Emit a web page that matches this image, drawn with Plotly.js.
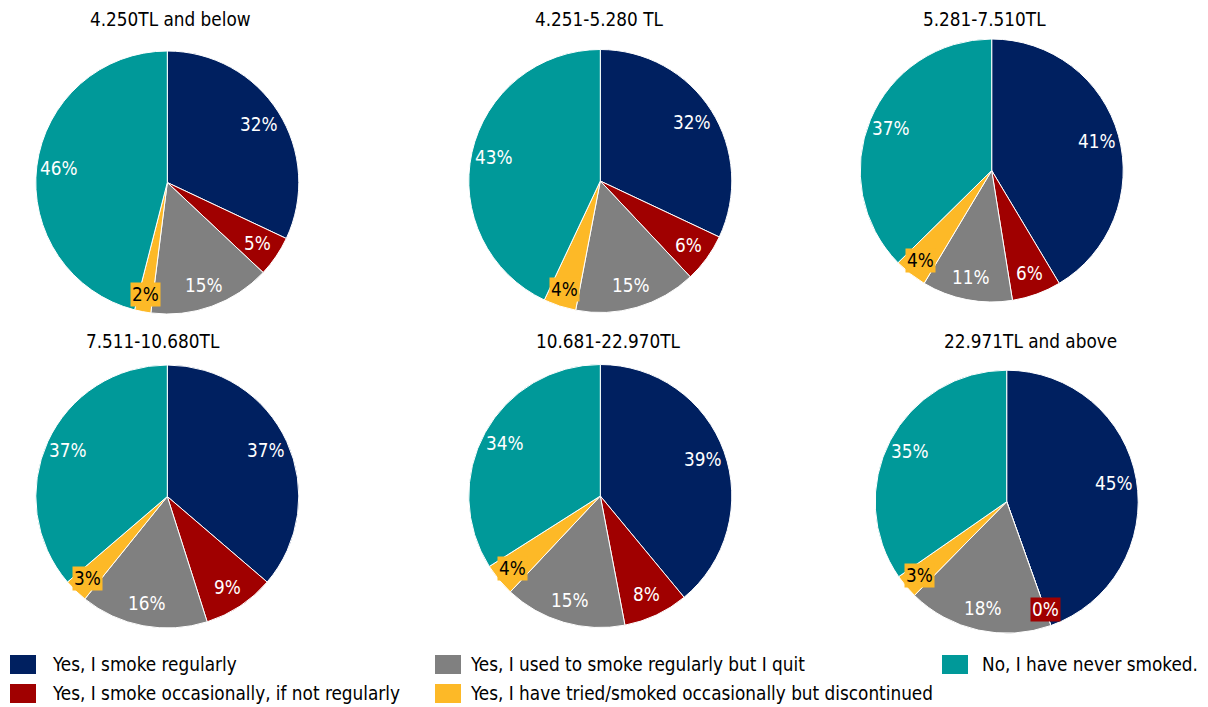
<!DOCTYPE html>
<html><head><meta charset="utf-8">
<script src="https://cdn.plot.ly/plotly-3.0.1.min.js"></script>
<style>html,body{margin:0;padding:0;background:#fff;}#chart{width:1208px;height:707px;}</style>
</head><body><div id="chart"></div>
<script>
// ---- data ----
const categories = [
  "Yes, I smoke regularly",
  "Yes, I smoke occasionally, if not regularly",
  "Yes, I used to smoke regularly but I quit",
  "Yes, I have tried/smoked occasionally but discontinued",
  "No, I have never smoked."
];
const groups = ["4.250TL and below", "4.251-5.280 TL", "5.281-7.510TL",
                "7.511-10.680TL", "10.681-22.970TL", "22.971TL and above"];
const income1 = [32, 5, 15, 2, 46];
const income2 = [32, 6, 15, 4, 43];
const income3 = [41, 6, 11, 4, 37];
const income4 = [37, 9, 16, 3, 37];
const income5 = [39, 8, 15, 4, 34];
const income6 = [45, 0, 18, 3, 35];
const seriesValues = [income1, income2, income3, income4, income5, income6];

// ---- style / layout ----
const colors = ['#002060', '#a00000', '#808080', '#fdb927', '#009999'];
const W = 1208, H = 707;
const FONT = 'DejaVu Sans Condensed, DejaVu Sans, sans-serif';
const FS = 18.8;
const pieCenters = [[167.3,182.5],[600.3,181],[991.7,170.5],[167.3,496.5],[600.3,496],[1006.7,501.7]];
const R = 131.5;
const titlePos = [[170,20],[599,20],[984,20],[152.5,341],[608,341],[1030,341]];
const labelK = 0.83, boxedK = 0.87;

const px = x => x / W;
const py = y => 1 - y / H;

const traces = [];
const annotations = [];
const shapes = [];

seriesValues.forEach((vals, i) => {
  const [cx, cy] = pieCenters[i];
  traces.push({
    type: 'pie',
    values: vals,
    labels: categories,
    sort: false,
    direction: 'clockwise',
    rotation: 0,
    textinfo: 'none',
    hoverinfo: 'label+value',
    showlegend: false,
    marker: {colors: colors, line: {color: '#ffffff', width: 1}},
    domain: {x: [px(cx - R), px(cx + R)], y: [py(cy + R), py(cy - R)]}
  });
  // title
  annotations.push({
    xref: 'paper', yref: 'paper', x: px(titlePos[i][0]), y: py(titlePos[i][1]),
    xanchor: 'center', yanchor: 'middle', showarrow: false,
    text: groups[i], font: {family: FONT, size: FS, color: '#000'}
  });
  // percent labels from data
  const total = vals.reduce((a, b) => a + b, 0);
  let cum = 0;
  vals.forEach((v, j) => {
    const mid = (cum + v / 2) / total * 2 * Math.PI;
    cum += v;
    const boxed = v < 5;
    const k = boxed ? boxedK : labelK;
    const lx = cx + k * R * Math.sin(mid);
    const ly = cy - k * R * Math.cos(mid);
    const isYellow = j === 3;
    annotations.push({
      xref: 'paper', yref: 'paper', x: px(lx), y: py(ly),
      xanchor: 'center', yanchor: 'middle', showarrow: false,
      text: Math.round(v) + '%',
      bgcolor: boxed ? colors[j] : 'rgba(0,0,0,0)',
      borderpad: 1,
      font: {family: FONT, size: FS, color: isYellow ? '#000' : '#fff'}
    });
  });
});

// legend (manual, three columns)
const legendCells = [
  {col: 0, row: 0}, {col: 0, row: 1}, {col: 1, row: 0}, {col: 1, row: 1}, {col: 2, row: 0}
];
const colSquareX = [10, 435, 942];
const colTextX = [50, 468, 980];
const rowY = [664.5, 693.5];
categories.forEach((c, j) => {
  const cell = legendCells[j];
  const sx = colSquareX[cell.col], ry = rowY[cell.row];
  shapes.push({
    type: 'rect', xref: 'paper', yref: 'paper',
    x0: px(sx), x1: px(sx + 26), y0: py(ry + 9.5), y1: py(ry - 9.5),
    fillcolor: colors[j], line: {width: 0}
  });
  annotations.push({
    xref: 'paper', yref: 'paper', x: px(colTextX[cell.col]), y: py(ry),
    xanchor: 'left', yanchor: 'middle', showarrow: false,
    text: c, font: {family: FONT, size: FS, color: '#000'}
  });
});

const layout = {
  width: W, height: H,
  margin: {l: 0, r: 0, t: 0, b: 0},
  paper_bgcolor: '#ffffff',
  showlegend: false,
  annotations: annotations,
  shapes: shapes
};
Plotly.newPlot('chart', traces, layout, {displayModeBar: false, staticPlot: true});
</script>
</body></html>
